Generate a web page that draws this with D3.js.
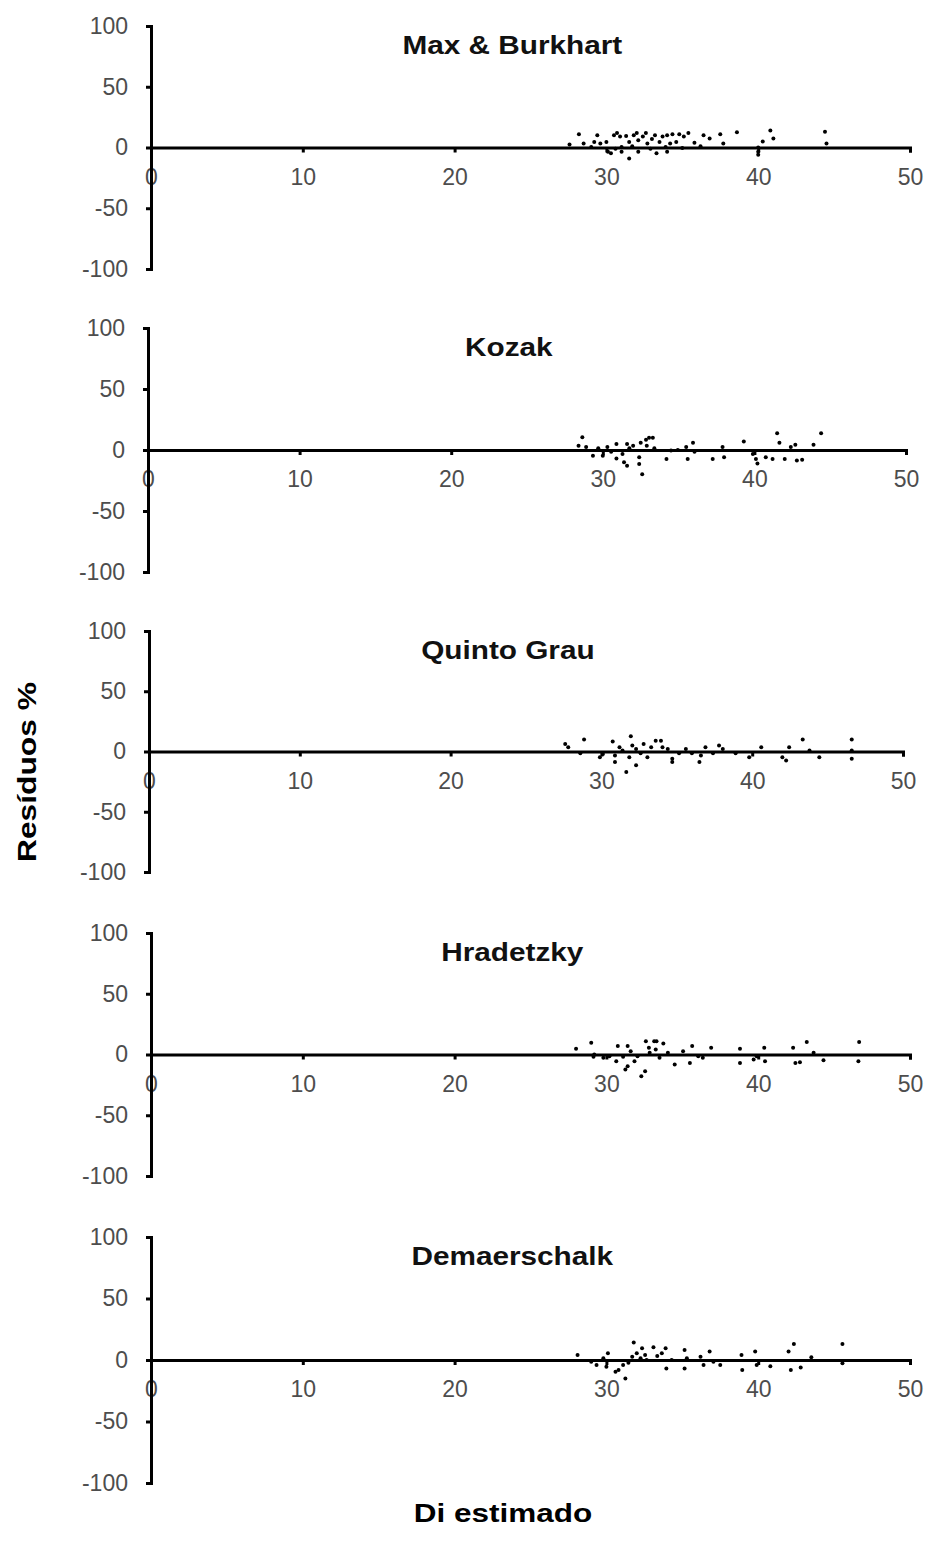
<!DOCTYPE html>
<html>
<head>
<meta charset="utf-8">
<script src="https://cdn.jsdelivr.net/npm/d3@7"></script>
<style>
  body { margin: 0; background: #fff; }
  svg { display: block; }
  text { font-family: "Liberation Sans", Arial, sans-serif; }
</style>
</head>
<body>
<svg id="chart" width="928" height="1544"></svg>
<script>
// ---------- data ----------
const titles = ["Max & Burkhart", "Kozak", "Quinto Grau", "Hradetzky", "Demaerschalk"];
const xTicks = [0, 10, 20, 30, 40, 50];
const yTicks = [-100, -50, 0, 50, 100];
const xLabel = "Di estimado";
const yLabel = "Resíduos %";

const maxBurkhart = [
  [28.19,10.9],[27.57,2.5],[28.5,3.3],[29.4,10],[29.2,4.6],[29.6,3.3],[30,4.6],[30.1,-3.6],
  [30.3,-4.7],[30.5,10],[30.7,12],[30.9,9],[31.0,0.5],[31.0,-3.6],[31.3,9.5],[31.5,-9],
  [31.5,4.6],[31.8,10],[32.0,12],[32.1,-3.6],[32.1,6],[32.4,9],[32.6,12],[32.7,3.3],
  [33.0,7],[33.2,10],[33.3,-4.7],[33.5,4.6],[33.7,9],[34.0,10],[34.0,-3.6],[34.2,3.3],
  [34.35,11],[34.6,4.6],[34.8,11],[35.1,9],[35.4,12],[35.8,4],[36.4,10],[36.8,7.5],
  [37.5,11],[37.7,3.3],[38.6,12.5],[40.0,0],[40.0,-3.6],[40.0,-6],[40.3,5],[40.8,14],
  [41.0,7.5],[44.4,13],[44.5,3.3],[29.0,0.5],[30.6,-1],[31.7,1],[32.9,-1],[33.9,0.5],
  [35.0,-0.5],[36.2,1]
];

const kozak = [
  [28.65,10.4],[28.4,3.5],[28.9,2.5],[29.35,-4.7],[29.7,1.5],[30,-4.7],[30.3,2.5],[30.55,-1.5],
  [30.9,5],[30.9,-6.9],[31.3,-3.3],[31.4,-10],[31.6,-13],[31.6,5],[31.75,1.5],[32.0,3.5],
  [32.4,-6],[32.4,-11.5],[32.6,-19.8],[32.5,6],[32.85,8.5],[33.05,10],[33.3,10],[32.9,3.5],
  [33.4,1.5],[34.2,-7.4],[34.5,-0.5],[34.95,0],[35.5,2.5],[35.6,-7.4],[35.95,6],[36.05,-1.5],
  [37.25,-7.4],[37.9,2.5],[38.0,-6],[39.3,7],[39.9,-3.3],[40.1,-7.4],[40.2,-11],[40.75,-6],
  [41.2,-7.4],[41.5,13.7],[41.65,6],[42.0,-7.4],[42.4,2.5],[42.7,4.4],[42.8,-8.6],[43.15,-8],
  [43.9,4.4],[44.4,13.7]
];

const quintoGrau = [
  [27.6,6.3],[27.8,3.5],[28.6,-1.5],[28.85,9.9],[29.9,-4.7],[30.1,-2],[30.75,8.2],[30.9,-8.8],
  [30.9,-3.3],[31.2,3.5],[31.4,0.8],[31.65,-17],[31.85,-4.7],[31.95,12.6],[32.05,5],[32.3,-11.5],
  [32.3,2],[32.6,-1.5],[32.8,6.3],[33.05,-4.7],[33.3,3.5],[33.6,9],[33.95,9],[34.05,3.5],
  [34.4,2],[34.7,-6],[34.7,-8.8],[35.15,-1.5],[35.6,2],[36.0,-1.5],[36.5,-8.8],[36.6,-3.3],
  [36.9,3.5],[37.4,-1.5],[37.8,5],[38.05,2],[38.9,-1.5],[39.8,-4.7],[40.6,3.5],[42.0,-4.7],
  [42.25,-7.4],[42.45,3.5],[43.35,9.9],[43.8,0.8],[44.45,-4.7],[46.6,9.9],[46.6,-6],[46.6,0.8]
];

const hradetzky = [
  [28.0,4.7],[29.0,9.6],[29.2,0],[29.15,-1.9],[29.8,-2.7],[30.2,-1.4],[30.65,-5.5],[30.75,6.9],
  [31.1,-1.9],[31.25,-12.3],[31.4,6.9],[31.4,-9.6],[31.6,2.7],[31.85,-5.5],[32.05,-1.4],[32.3,-17.8],
  [32.55,-13.7],[32.6,11],[32.8,5.5],[32.85,1.4],[33.15,11],[33.25,4.1],[33.3,11],[33.5,-2.7],
  [33.75,9.1],[34.05,1.4],[34.5,-8.2],[35.05,2.7],[35.5,-6.9],[35.65,6.9],[36.05,-1.4],[36.35,-2.7],
  [36.9,5.5],[38.8,4.7],[38.8,-6.9],[39.7,-4.1],[39.9,-1.4],[40.4,5.5],[40.45,-5.5],[42.3,5.5],
  [42.45,-6.9],[42.75,-6.3],[43.2,10.3],[43.65,1.4],[44.3,-4.7],[46.65,10.3],[46.6,-5.5]
];

const demaerschalk = [
  [28.1,4.1],[29.0,-1.4],[29.35,-4.1],[29.8,1.4],[30.1,5.5],[30.0,-5.5],[30.6,-9.6],[30.8,-8.2],
  [31.1,-4.1],[31.25,-15],[31.45,-2.2],[31.7,2.7],[31.8,14.3],[32.0,5.5],[32.25,1.4],[32.35,9.6],
  [32.55,4.1],[32.65,0],[33.1,10.3],[33.35,3.3],[33.65,5.5],[33.9,9.6],[33.95,-6.9],[34.3,0],
  [35.15,8.2],[35.15,-6.9],[35.3,1.4],[36.2,2.7],[36.4,-4.1],[36.8,6.9],[37.05,-1.4],[37.5,-4.1],
  [38.9,4.1],[38.95,-8.2],[39.8,6.9],[39.9,-4.1],[40.8,-5],[42.0,6.9],[42.35,13],[42.15,-8.2],
  [42.8,-6],[43.5,2.2],[45.55,13],[45.55,-2.7]
];

const seriesList = [maxBurkhart, kozak, quintoGrau, hradetzky, demaerschalk];

// ---------- layout (pixel geometry of each panel) ----------
const panels = [
  {x0: 151, x1: 910, yTop: 26,   yBot: 269},
  {x0: 148, x1: 906, yTop: 328,  yBot: 572},
  {x0: 149, x1: 903, yTop: 631,  yBot: 872},
  {x0: 151, x1: 910, yTop: 933,  yBot: 1176},
  {x0: 151, x1: 910, yTop: 1237, yBot: 1483}
];

const svg = d3.select("#chart");
const tickFont = 23;

panels.forEach((p, i) => {
  const x = d3.scaleLinear().domain([0, 50]).range([p.x0, p.x1]);
  const y = d3.scaleLinear().domain([-100, 100]).range([p.yBot, p.yTop]);
  const g = svg.append("g");

  // x axis at y = 0
  const xa = g.append("g")
    .attr("transform", `translate(0,${y(0)})`)
    .call(d3.axisBottom(x).tickValues(xTicks).tickSize(5).tickSizeOuter(5).tickPadding(16)
      .tickFormat(d => String(d)));
  xa.select(".domain").attr("stroke", "#000").attr("stroke-width", 3);
  xa.selectAll(".tick line").attr("stroke", "#000").attr("stroke-width", 3);
  xa.selectAll(".tick text").attr("font-size", tickFont).attr("fill", "#4d4d4d")
    .attr("font-family", "'Liberation Sans', Arial, sans-serif");

  // y axis at x = 0
  const ya = g.append("g")
    .attr("transform", `translate(${x(0)},0)`)
    .call(d3.axisLeft(y).tickValues(yTicks).tickSize(5).tickSizeOuter(5).tickPadding(18)
      .tickFormat(d => String(d)));
  ya.select(".domain").attr("stroke", "#000").attr("stroke-width", 3);
  ya.selectAll(".tick line").attr("stroke", "#000").attr("stroke-width", 3);
  ya.selectAll(".tick text").attr("font-size", tickFont).attr("fill", "#4d4d4d")
    .attr("font-family", "'Liberation Sans', Arial, sans-serif");

  // points
  g.append("g").selectAll("circle")
    .data(seriesList[i])
    .join("circle")
    .attr("cx", d => x(d[0]))
    .attr("cy", d => y(d[1]))
    .attr("r", 2)
    .attr("fill", "#000");

  // title (horizontally stretched as in the reference)
  g.append("text")
    .attr("transform", `translate(${x(23.8)},${y(100) + 28}) scale(1.19,1)`)
    .attr("text-anchor", "middle")
    .attr("font-size", 25)
    .attr("font-weight", "bold")
    .attr("fill", "#111")
    .text(titles[i]);
});

// axis titles
svg.append("text")
  .attr("transform", "translate(36,772) rotate(-90) scale(1.27,1)")
  .attr("text-anchor", "middle")
  .attr("font-size", 25)
  .attr("font-weight", "bold")
  .attr("fill", "#000")
  .text(yLabel);

svg.append("text")
  .attr("transform", "translate(503,1522) scale(1.26,1)")
  .attr("text-anchor", "middle")
  .attr("font-size", 25)
  .attr("font-weight", "bold")
  .attr("fill", "#000")
  .text(xLabel);
</script>
</body>
</html>
